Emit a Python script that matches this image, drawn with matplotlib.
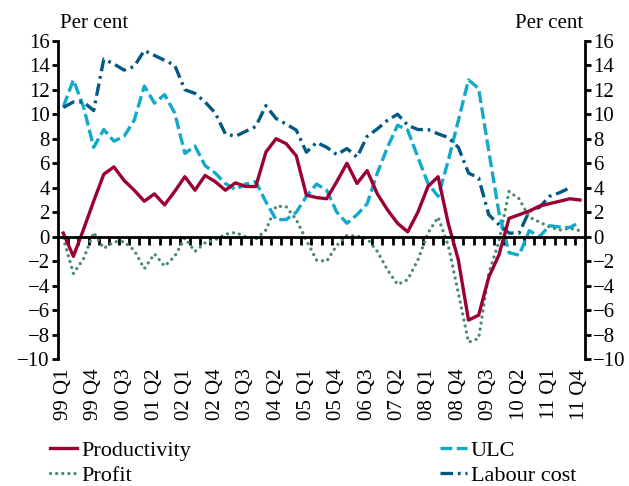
import numpy as np
import matplotlib.pyplot as plt

# quarterly growth, per cent, 1999 Q1 - 2011 Q4
tick_labels = ['99 Q1', '99 Q4', '00 Q3', '01 Q2', '02 Q1', '02 Q4', '03 Q3',
               '04 Q2', '05 Q1', '05 Q4', '06 Q3', '07 Q2', '08 Q1', '08 Q4',
               '09 Q3', '10 Q2', '11 Q1', '11 Q4']

productivity = [0.3, -1.6, 0.6, 2.9, 5.1, 5.7, 4.6, 3.8, 2.9, 3.5, 2.6, 3.7,
                4.9, 3.8, 5.0, 4.5, 3.8, 4.4, 4.1, 4.1, 6.9, 8.0, 7.6, 6.6,
                3.4, 3.2, 3.1, 4.5, 6.0, 4.35, 5.4, 3.5, 2.2, 1.1, 0.4, 2.0,
                4.1, 4.9, 1.1, -1.9, -6.8, -6.4, -3.3, -1.5, 1.5, 1.8, 2.1,
                2.5, 2.7, 2.9, 3.1, 3.0]

ulc = [10.6, 12.8, 10.6, 7.3, 8.75, 7.8, 8.2, 9.5, 12.3, 10.9, 11.6, 10.1,
       6.8, 7.4, 5.8, 5.2, 4.35, 3.85, 4.3, 4.5, 2.85, 1.4, 1.4, 2.0,
       3.3, 4.3, 3.8, 2.0, 1.1, 1.8, 2.7, 5.2, 7.3, 9.1, 8.7, 6.5,
       4.35, 3.3, 6.2, 9.5, 12.8, 12.1, 7.0, 2.0, -1.3, -1.5, 0.5,
       0.0, 0.9, 0.8, 0.75, 1.2]

labour_cost = [10.55, 11.0, 11.0, 10.3, 14.5, 14.1, 13.6, 13.9, 15.2, 14.8,
               14.4, 14.0, 12.0, 11.7, 11.0, 10.1, 8.4, 8.2, 8.6, 9.0, 10.7,
               9.65, 9.2, 8.7, 6.9, 7.7, 7.3, 6.7, 7.2, 6.5, 8.2, 8.8, 9.5,
               10.0, 9.1, 8.75, 8.75, 8.4, 8.1, 7.3, 5.2, 4.8, 1.8, 1.0, 0.3,
               0.3, 2.1, 2.4, 3.3, 3.6, 4.0, np.nan]

profit = [-0.1, -3.0, -1.8, 0.35, -0.95, -0.4, -0.4, -1.1, -2.6, -1.4, -2.4,
          -1.6, -0.1, -1.2, -0.5, -0.25, 0.2, 0.35, 0.0, -0.2, 0.55, 2.5,
          2.45, 1.4, -0.3, -1.9, -2.0, -0.7, 0.1, 0.05, -0.15, -1.2, -2.7,
          -3.9, -3.5, -1.9, 0.3, 1.6, -0.7, -4.6, -8.6, -8.3, -3.0, -0.4,
          3.7, 3.1, 1.6, 1.2, 0.8, 0.55, 0.7, 0.5]

RED = '#9b0033'
CYAN = '#12a9cc'
NAVY = '#005a82'
GREEN = '#4b8a6e'

plt.rcParams['font.family'] = ['Liberation Serif', 'DejaVu Serif']
plt.rcParams['font.size'] = 15
plt.rcParams['lines.scale_dashes'] = False

fig = plt.figure(figsize=(6.29, 4.86), dpi=100)
ax = fig.add_axes([58.2 / 629, 1 - 359.3 / 486, (585 - 58.2) / 629, (359.3 - 40.7) / 486])

x = np.arange(len(productivity))
lw = 2.4
h_profit, = ax.plot(x, profit, color=GREEN, lw=lw, linestyle=(0, (0.01, 4.4)),
                    dash_capstyle='round', label='Profit')
h_ulc, = ax.plot(x, ulc, color=CYAN, lw=lw, linestyle=(0, (8.5, 3.2)), label='ULC')
h_lab, = ax.plot(x, labour_cost, color=NAVY, lw=lw,
                 linestyle=(0, (9, 3.5, 2, 3.5)), label='Labour cost')
h_prod, = ax.plot(x, productivity, color=RED, lw=lw, label='Productivity')

ax.set_xlim(-0.5, len(x) - 0.5)
ax.set_ylim(-10, 16)

ax.spines['top'].set_visible(False)
ax.spines['bottom'].set_position(('data', 0))
for side in ['left', 'right', 'bottom']:
    ax.spines[side].set_linewidth(2)

ax.set_yticks(np.arange(-10, 17, 2))
ax.tick_params(axis='y', direction='out', length=4, width=2, left=True,
               right=True, labelleft=True, labelright=True, pad=2)

# labels every third quarter, boundary ticks along the zero line
ax.set_xticks(x[::3])
ax.set_xticklabels(tick_labels, rotation=90)
ax.set_xticks(x[:-1] + 0.5, minor=True)
ax.tick_params(axis='x', which='major', length=0, pad=95)
ax.tick_params(axis='x', which='minor', direction='out', length=6, width=2)

fig.text(60 / 629, 1 - 28 / 486, 'Per cent', ha='left', va='baseline')
fig.text(583 / 629, 1 - 28 / 486, 'Per cent', ha='right', va='baseline')

fig.legend([h_prod, h_profit, h_ulc, h_lab],
           ['Productivity', 'Profit', 'ULC', 'Labour cost'],
           ncol=2, frameon=False, loc='upper left', fontsize=16,
           bbox_to_anchor=(50 / 629, 1 - 440 / 486), borderaxespad=0,
           borderpad=0, handlelength=1.2, handletextpad=0.2,
           columnspacing=11.2, labelspacing=0.2)

fig.savefig('out.png', dpi=100)
